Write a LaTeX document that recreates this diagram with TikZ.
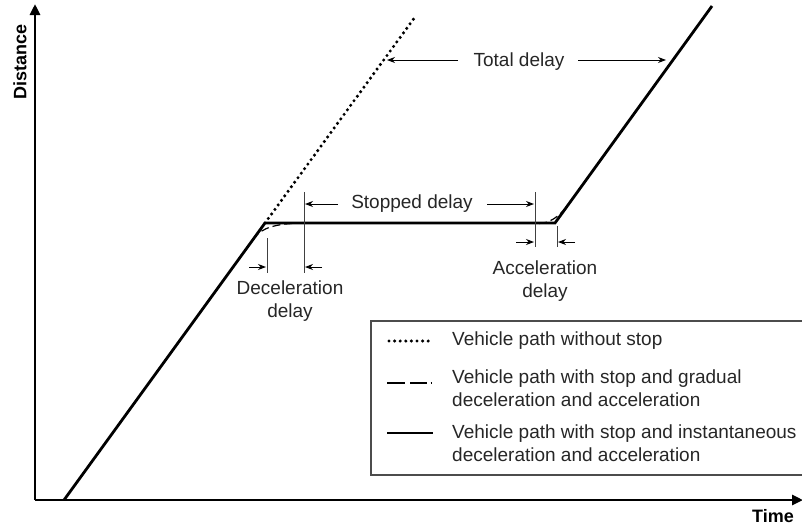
\documentclass[tikz,border=0pt]{standalone}
\usepackage{fontspec}
\setmainfont{Liberation Sans}
\usetikzlibrary{arrows.meta}
\begin{document}
\begin{tikzpicture}[x=1pt,y=-1pt,
  axis/.style={line width=2.8pt,-{Triangle[length=11pt,width=10pt]}},
  solidpath/.style={line width=2.8pt},
  dotpath/.style={line width=3.4pt,line cap=round,dash pattern=on 0pt off 5.6pt},
  dashpath/.style={line width=1.2pt,dash pattern=on 8pt off 4pt},
  tickline/.style={line width=1pt,black!75},
  dim/.style={line width=1pt,-{Stealth[length=8pt,width=6pt]}},
  lbl/.style={font=\fontsize{19}{23}\selectfont,align=center,inner sep=0pt,text=black!85},
  leglbl/.style={font=\fontsize{19}{23}\selectfont,align=left,inner sep=0pt,anchor=west,text=black!85},
  axlbl/.style={font=\fontsize{18}{20}\selectfont\bfseries,inner sep=0pt},
]
\useasboundingbox (0,0) rectangle (802,528);

% key points
\coordinate (O) at (35,500);
\coordinate (Ytop) at (35,4);
\coordinate (Xend) at (803,500);
\coordinate (S0) at (64,500);
\coordinate (C1) at (265,223);
\coordinate (C2) at (555,223);
\coordinate (S3) at (712,6);
\coordinate (D3) at (415,17);

% axes
\draw[axis] (O) -- (Ytop);
\draw[axis] (O) -- (Xend);
\node[axlbl,rotate=90] (dist) at (20,62) {Distance};
\node[axlbl,anchor=east] (time) at (794,516) {Time};

% dotted path without stop
\draw[dotpath] (C1) -- (D3);

% gradual decel / accel (dashed)
\coordinate (G1) at (253,239.5);
\coordinate (G2) at (292,223.5);
\coordinate (G3) at (539,223.5);
\coordinate (G4) at (568,205);
\draw[dashpath] (G1) .. controls (259,231) and (268,225) .. (G2);
\draw[dashpath] (G3) .. controls (549,223) and (558,218) .. (G4);

% solid path
\draw[solidpath,line join=miter] (S0) -- (C1) -- (C2) -- (S3);

% ticks
\coordinate (T1a) at (267,238); \coordinate (T1b) at (267,273);
\coordinate (T2a) at (304,192); \coordinate (T2b) at (304,273);
\coordinate (T3a) at (535,192); \coordinate (T3b) at (535,247);
\coordinate (T4a) at (557,226); \coordinate (T4b) at (557,247);
\draw[tickline] (T1a) -- (T1b);
\draw[tickline] (T2a) -- (T2b);
\draw[tickline] (T3a) -- (T3b);
\draw[tickline] (T4a) -- (T4b);

% total delay
\node[lbl] (total) at (519,62) {Total delay};
\coordinate (TL) at (387,60);
\coordinate (TR) at (666,60);
\draw[dim] (458,60) coordinate (TLs) -- (TL);
\draw[dim] (578,60) coordinate (TRs) -- (TR);

% stopped delay
\node[lbl] (stopped) at (412,204) {Stopped delay};
\draw[dim] (338,204) coordinate (SLs) -- (305,204) coordinate (SL);
\draw[dim] (487,204) coordinate (SRs) -- (534,204) coordinate (SR);

% deceleration delay
\node[lbl] (decel) at (290,301) {Deceleration\\delay};
\draw[dim] (249,267) coordinate (DLs) -- (266,267) coordinate (DL);
\draw[dim] (322,267) coordinate (DRs) -- (305,267) coordinate (DR);

% acceleration delay
\node[lbl] (accel) at (545,281) {Acceleration\\delay};
\draw[dim] (516,242) coordinate (ALs) -- (534,242) coordinate (AL);
\draw[dim] (575,242) coordinate (ARs) -- (558,242) coordinate (AR);

% legend
\draw[line width=1.3pt,black!70] (804,321) -- (371,321) -- (371,475) -- (804,475);
\draw[dotpath] (389,341) coordinate (L1a) -- (431,341) coordinate (L1b);
\node[leglbl] (leg1) at (452,341) {Vehicle path without stop};
\draw[line width=1.3pt] (387,383) coordinate (L2a) -- (405,383);
\draw[line width=1.3pt] (410,383) -- (427,383) coordinate (L2b);
\draw[line width=1.3pt] (430.5,383) -- (432,383);
\node[leglbl] (leg2) at (452,388.5) {Vehicle path with stop and gradual\\deceleration and acceleration};
\draw[solidpath] (387,433) coordinate (L3a) -- (433,433) coordinate (L3b);
\node[leglbl] (leg3) at (452,443.5) {Vehicle path with stop and instantaneous\\deceleration and acceleration};
\end{tikzpicture}
\end{document}
